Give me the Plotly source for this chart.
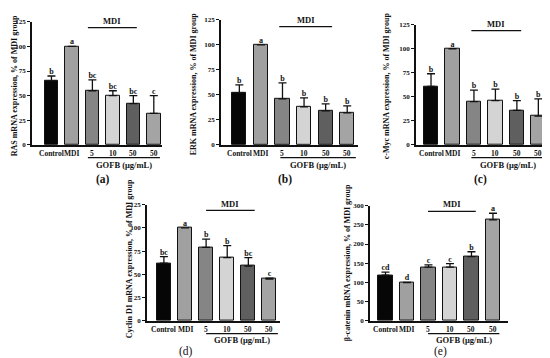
import plotly.graph_objects as go

W, H = 550, 358

# ---------------- data ----------------
tick_labels = ["Control", "MDI", "5", "10", "50", "50"]
bar_colors = ["#060606", "#a0a0a0", "#858585", "#d4d4d4", "#5f5f5f", "#a4a4a4"]

ras_mean = [65, 100, 55, 50, 42, 32]
ras_err = [5, 0, 11, 5, 8, 18]
ras_letters = ["b", "a", "bc", "bc", "bc", "c"]

erk_mean = [52, 100, 46, 38, 34, 32]
erk_err = [8, 0, 16, 9, 7, 7]
erk_letters = ["b", "a", "b", "b", "b", "b"]

cmyc_mean = [61, 100, 45, 46, 36, 30]
cmyc_err = [13, 0, 12, 12, 10, 18]
cmyc_letters = ["b", "a", "b", "b", "b", "b"]

ccnd1_mean = [62, 100, 79, 68, 59, 45]
ccnd1_err = [7, 0, 9, 13, 9, 1]
ccnd1_letters = ["bc", "a", "b", "b", "bc", "c"]

bcat_mean = [119, 100, 140, 140, 167, 263]
bcat_err = [8, 0, 6, 9, 13, 17]
bcat_letters = ["cd", "d", "c", "c", "b", "a"]

ytitles = ["RAS mRNA expression, % of MDI group",
           "ERK mRNA expression, % of MDI group",
           "c-Myc mRNA expression, % of MDI group",
           "Cyclin D1 mRNA expression, % of MDI group",
           "β-catenin mRNA expression, % of MDI group"]
panel_labels = ["(a)", "(b)", "(c)", "(d)", "(e)"]
mdi_span = [(1.78, 4.17), (1.85, 4.3), (1.88, 4.2), (2.0, 4.3), (1.98, 4.2)]
gofb_span = [(1.78, 5.3), (1.9, 5.4), (1.88, 5.3), (2.0, 5.4), (1.98, 5.3)]

# ---------------- layout geometry (pixels) ----------------
panels = [
    dict(mean=ras_mean, err=ras_err, let=ras_letters, x0=24, x1=154, yt=10, yb=136,
         xr=[-0.95, 5.4], yr=[0, 125], dt=25, tx=6, ty=76, lx=95, ly=171,
         mdi_ty=9, mdi_ly=16, cat_y=145, g_ly=149, g_ty=156, bold=True),
    dict(mean=erk_mean, err=erk_err, let=erk_letters, x0=213, x1=350, yt=8, yb=136,
         xr=[-0.85, 5.5], yr=[0, 125], dt=25, tx=185, ty=74, lx=277, ly=171,
         mdi_ty=8, mdi_ly=15, cat_y=145, g_ly=149, g_ty=156, bold=True),
    dict(mean=cmyc_mean, err=cmyc_err, let=cmyc_letters, x0=408, x1=540, yt=13, yb=136,
         xr=[-0.7, 5.45], yr=[0, 125], dt=25, tx=378, ty=76, lx=472, ly=171,
         mdi_ty=12, mdi_ly=19, cat_y=145, g_ly=149, g_ty=156, bold=True),
    dict(mean=ccnd1_mean, err=ccnd1_err, let=ccnd1_letters, x0=139, x1=272, yt=197, yb=316,
         xr=[-0.8, 5.5], yr=[0, 125], dt=25, tx=121, ty=253, lx=178, ly=347,
         mdi_ty=196, mdi_ly=203, cat_y=325, g_ly=329, g_ty=336, bold=False),
    dict(mean=bcat_mean, err=bcat_err, let=bcat_letters, x0=362, x1=500, yt=198, yb=316,
         xr=[-0.72, 5.7], yr=[0, 300], dt=50, tx=339, ty=257, lx=432, ly=347,
         mdi_ty=196, mdi_ly=204, cat_y=325, g_ly=329, g_ty=336, bold=False),
]

def px(x):
    return x / W

def py(y):
    return 1 - y / H

FONT = "Liberation Serif"
INK = "#111111"
fig = go.Figure()
annotations = []
shapes = []

for i, p in enumerate(panels):
    k = "" if i == 0 else str(i + 1)
    xa, ya = "x" + k, "y" + k
    xs = list(range(len(p["mean"])))
    fig.add_trace(go.Bar(
        x=xs, y=p["mean"], xaxis=xa, yaxis=ya, width=0.66,
        marker=dict(color=bar_colors, line=dict(color=INK, width=1)),
        error_y=dict(type="data", symmetric=False, array=p["err"],
                     arrayminus=[0] * len(xs), color=INK, thickness=1.3, width=4),
        showlegend=False, hoverinfo="skip"))
    # significance letters
    fig.add_trace(go.Scatter(
        x=xs, y=[m + e for m, e in zip(p["mean"], p["err"])], xaxis=xa, yaxis=ya,
        mode="text", text=p["let"], textposition="top center",
        textfont=dict(family=FONT, size=8, color=INK, weight="bold"),
        showlegend=False, hoverinfo="skip", cliponaxis=False))
    fig.layout["xaxis" + k] = dict(
        domain=[px(p["x0"]), px(p["x1"])], anchor=ya, range=p["xr"],
        tickvals=xs, showticklabels=False, showline=True, linecolor=INK,
        linewidth=1.5, ticks="", showgrid=False, zeroline=False, fixedrange=True)
    fig.layout["yaxis" + k] = dict(
        domain=[py(p["yb"]), py(p["yt"])], anchor=xa, range=p["yr"],
        dtick=p["dt"], tick0=0, showline=True, linecolor=INK, linewidth=1.5,
        ticks="outside", ticklen=3, tickwidth=1.3, tickcolor=INK,
        tickfont=dict(family=FONT, size=7, color=INK, weight="bold"),
        showgrid=False, zeroline=False, fixedrange=True)
    # category labels
    for j, lab in enumerate(tick_labels):
        annotations.append(dict(x=j, y=py(p["cat_y"]), xref=xa, yref="paper",
                                text=lab, showarrow=False, yanchor="middle",
                                xanchor="center",
                                font=dict(family=FONT, size=7.5, color=INK, weight="bold")))
    # y-axis title
    annotations.append(dict(x=px(p["tx"]), y=py(p["ty"]), xref="paper", yref="paper",
                            text=ytitles[i], textangle=-90, showarrow=False,
                            xanchor="center", yanchor="middle",
                            font=dict(family=FONT, size=8, color=INK, weight="bold")))
    # MDI bracket
    m0, m1 = mdi_span[i]
    shapes.append(dict(type="line", xref=xa, yref="paper", x0=m0, x1=m1,
                       y0=py(p["mdi_ly"]), y1=py(p["mdi_ly"]),
                       line=dict(color=INK, width=1.3)))
    annotations.append(dict(x=(m0 + m1) / 2, y=py(p["mdi_ty"]), xref=xa, yref="paper",
                            text="MDI", showarrow=False, yanchor="middle",
                            font=dict(family=FONT, size=8.5, color=INK, weight="bold")))
    # GOFB bracket
    g0, g1 = gofb_span[i]
    shapes.append(dict(type="line", xref=xa, yref="paper", x0=g0, x1=g1,
                       y0=py(p["g_ly"]), y1=py(p["g_ly"]),
                       line=dict(color=INK, width=1.3)))
    annotations.append(dict(x=(g0 + g1) / 2, y=py(p["g_ty"]), xref=xa, yref="paper",
                            text="GOFB (μg/mL)", showarrow=False, yanchor="middle",
                            font=dict(family=FONT, size=8.5, color=INK, weight="bold")))
    # panel label
    annotations.append(dict(x=px(p["lx"]), y=py(p["ly"]), xref="paper", yref="paper",
                            text=panel_labels[i], showarrow=False,
                            xanchor="center", yanchor="middle", borderpad=0,
                            font=dict(family=FONT, size=11.5, color=INK,
                                      weight="bold" if p["bold"] else "normal")))

fig.update_layout(width=W, height=H, margin=dict(l=0, r=0, t=0, b=0),
                  paper_bgcolor="white", plot_bgcolor="white",
                  annotations=annotations, shapes=shapes, bargap=0)
fig.write_html("out.html")
